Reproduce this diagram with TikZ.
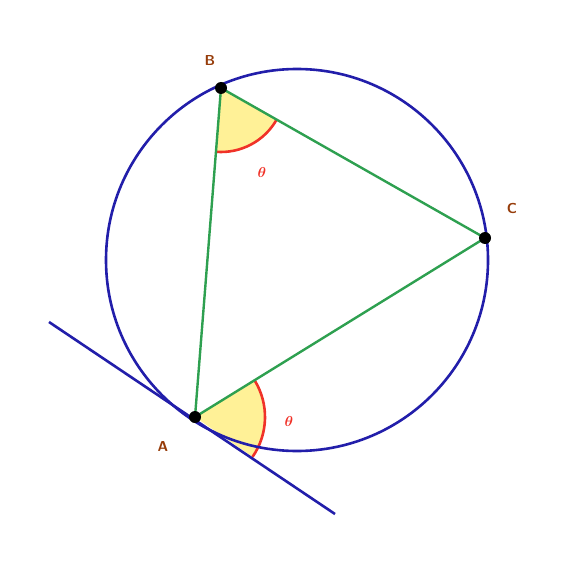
\documentclass[tikz,border=0pt]{standalone}
\usepackage{tikz}
\usepackage{bm}
\usetikzlibrary{calc}

\definecolor{circblue}{RGB}{34,30,170}
\definecolor{chordgreen}{RGB}{46,160,80}
\definecolor{anglered}{RGB}{240,50,40}
\definecolor{labelbrown}{RGB}{150,60,10}
\definecolor{wedgeyellow}{RGB}{255,240,140}

\tikzset{
	circ/.style={draw=circblue, line width=2.6pt},
	chord/.style={draw=chordgreen, line width=2.4pt},
	wedge/.style={fill=wedgeyellow, fill opacity=0.9},
	arcline/.style={draw=anglered, line width=2.6pt},
	dot/.style={circle, fill=black, inner sep=0pt, minimum size=12pt},
	lbl/.style={text=labelbrown, font=\sffamily\bfseries\Large},
	theta/.style={text=anglered, font=\sffamily\bfseries\Large}
}

\begin{document}
\begin{tikzpicture}[x=1pt, y=-1pt]
	\useasboundingbox (0,0) rectangle (577,561);
	\pgfmathsetmacro{\R}{191}		%radius of circle
	\pgfmathsetmacro{\rA}{70}		%radius of angle at A
	\pgfmathsetmacro{\rB}{64}		%radius of angle at B

	\coordinate (O) at (297,260);
	\coordinate (A) at (195,417);
	\coordinate (B) at (221,88);
	\coordinate (C) at (485,238);
	\coordinate (T1) at (49,322);
	\coordinate (T2) at (335,514);

	%angle wedges (y is flipped, so angles are negated)
	\fill[wedge] (A) -- ++(34.7:\rA) arc (34.7:-31.7:\rA) -- cycle;
	\fill[wedge] (B) -- ++(94.5:\rB) arc (94.5:29.6:\rB) -- cycle;
	\draw[arcline] ($(A)+(34.7:\rA)$) arc (34.7:-31.7:\rA);
	\draw[arcline] ($(B)+(94.5:\rB)$) arc (94.5:29.6:\rB);

	\draw[circ] (O) circle (\R);
	\draw[circ] (T1) -- (T2);
	\draw[chord] (A) -- (B) -- (C) -- (A);

	\node[dot] (a) at (A) {};
	\node[dot] (b) at (B) {};
	\node[dot] (c) at (C) {};

	\node[lbl] at (163,446) {A};
	\node[lbl] at (210,61) {B};
	\node[lbl] at (512,208) {C};
	\node[theta] at (262,173) {$\bm{\theta}$};
	\node[theta] at (289,421) {$\bm{\theta}$};
\end{tikzpicture}
\end{document}
